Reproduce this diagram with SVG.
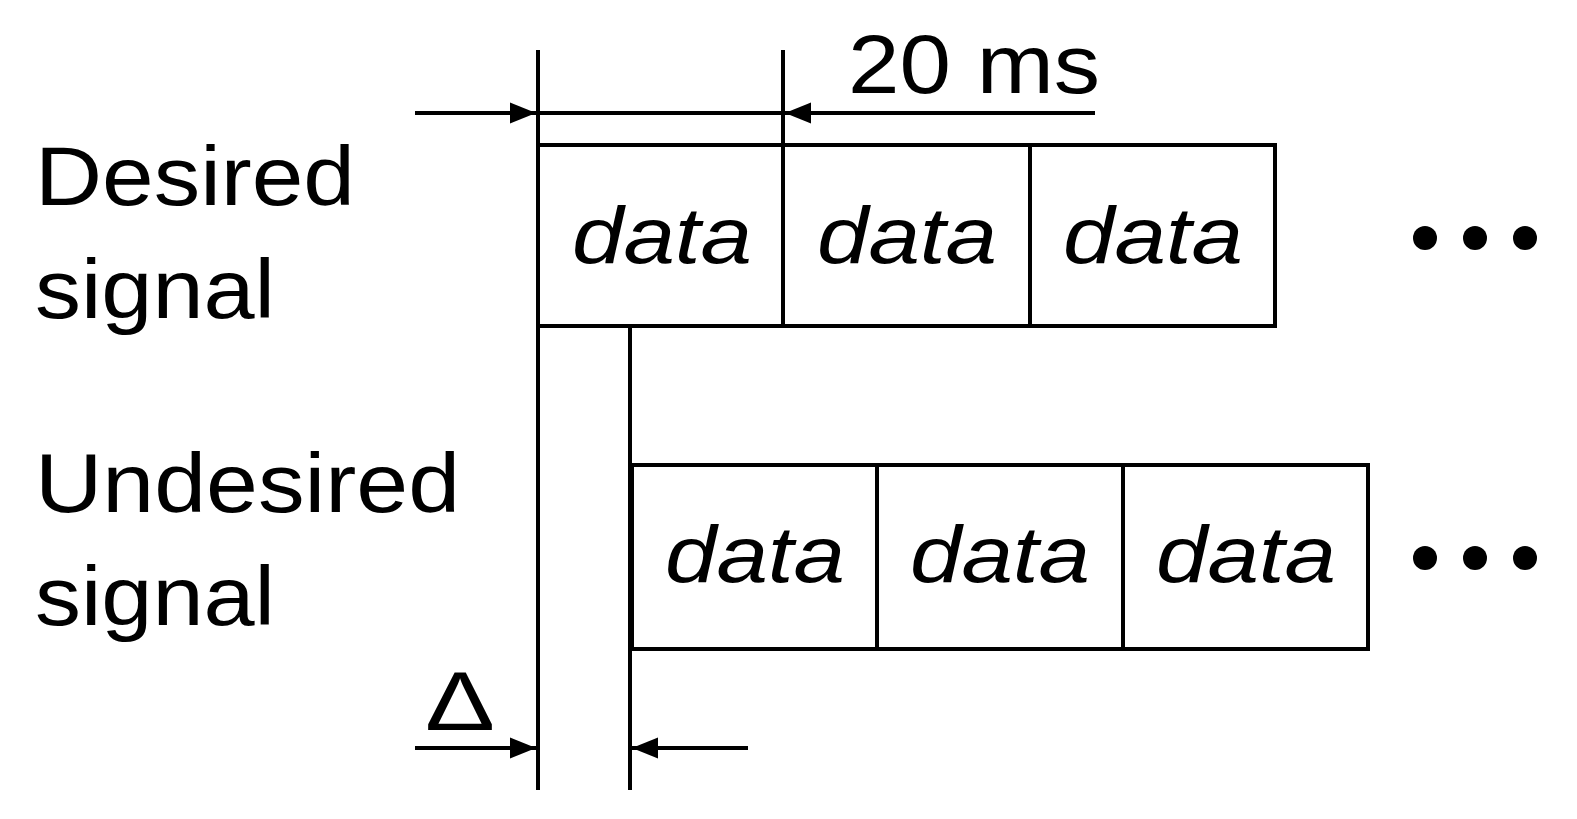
<svg xmlns="http://www.w3.org/2000/svg" width="1577" height="819" viewBox="0 0 1577 819">
<style>
.l{stroke:#000;stroke-width:4;fill:none}
.t{font-family:"Liberation Sans",Arial,sans-serif;font-size:84px;fill:#000}
.d{font-family:"Liberation Sans",Arial,sans-serif;font-size:80px;font-style:italic;fill:#000}
</style>
<defs><marker id="b" viewBox="0 0 10 10" refX="10" refY="5" markerWidth="26" markerHeight="26" markerUnits="userSpaceOnUse" orient="auto"><path d="M0,1 L10,5 L0,9 z"/></marker></defs>
<rect width="1577" height="819" fill="#fff"/>
<g id="connectors">
<line class="l" x1="538" y1="50" x2="538" y2="790"/>
<line class="l" x1="783" y1="50" x2="783" y2="145"/>
<line class="l" x1="630" y1="326" x2="630" y2="790"/>
<line class="l" x1="538" y1="113" x2="783" y2="113"/>
<line class="l" x1="415" y1="113" x2="536" y2="113" marker-end="url(#b)"/>
<line class="l" x1="1095" y1="113" x2="785" y2="113" marker-end="url(#b)"/>
<line class="l" x1="415" y1="748" x2="536" y2="748" marker-end="url(#b)"/>
<line class="l" x1="748" y1="748" x2="632" y2="748" marker-end="url(#b)"/>
</g>
<g id="labels">
<text class="t" x="848" y="93" textLength="252" lengthAdjust="spacingAndGlyphs">20 ms</text>
<text class="t" x="35" y="205" textLength="320" lengthAdjust="spacingAndGlyphs">Desired</text>
<text class="t" x="35" y="318" textLength="240" lengthAdjust="spacingAndGlyphs">signal</text>
<text class="t" x="35" y="512" textLength="425" lengthAdjust="spacingAndGlyphs">Undesired</text>
<text class="t" x="35" y="625" textLength="240" lengthAdjust="spacingAndGlyphs">signal</text>
<text class="t" x="425" y="730" textLength="70" lengthAdjust="spacingAndGlyphs">Δ</text>
</g>
<g id="desired">
<rect class="l" x="538" y="145" width="737" height="181"/>
<line class="l" x1="783" y1="145" x2="783" y2="326"/>
<line class="l" x1="1030" y1="145" x2="1030" y2="326"/>
<text class="d" x="572" y="263" textLength="180" lengthAdjust="spacingAndGlyphs">data</text>
<text class="d" x="817" y="263" textLength="180" lengthAdjust="spacingAndGlyphs">data</text>
<text class="d" x="1063" y="263" textLength="180" lengthAdjust="spacingAndGlyphs">data</text>
<circle cx="1425" cy="238" r="12"/><circle cx="1475" cy="238" r="12"/><circle cx="1525" cy="238" r="12"/>
</g>
<g id="undesired">
<rect class="l" x="632" y="465" width="736" height="184"/>
<line class="l" x1="877" y1="465" x2="877" y2="649"/>
<line class="l" x1="1123" y1="465" x2="1123" y2="649"/>
<text class="d" x="665" y="582" textLength="180" lengthAdjust="spacingAndGlyphs">data</text>
<text class="d" x="910" y="582" textLength="180" lengthAdjust="spacingAndGlyphs">data</text>
<text class="d" x="1156" y="582" textLength="180" lengthAdjust="spacingAndGlyphs">data</text>
<circle cx="1425" cy="558" r="12"/><circle cx="1475" cy="558" r="12"/><circle cx="1525" cy="558" r="12"/>
</g>
</svg>
